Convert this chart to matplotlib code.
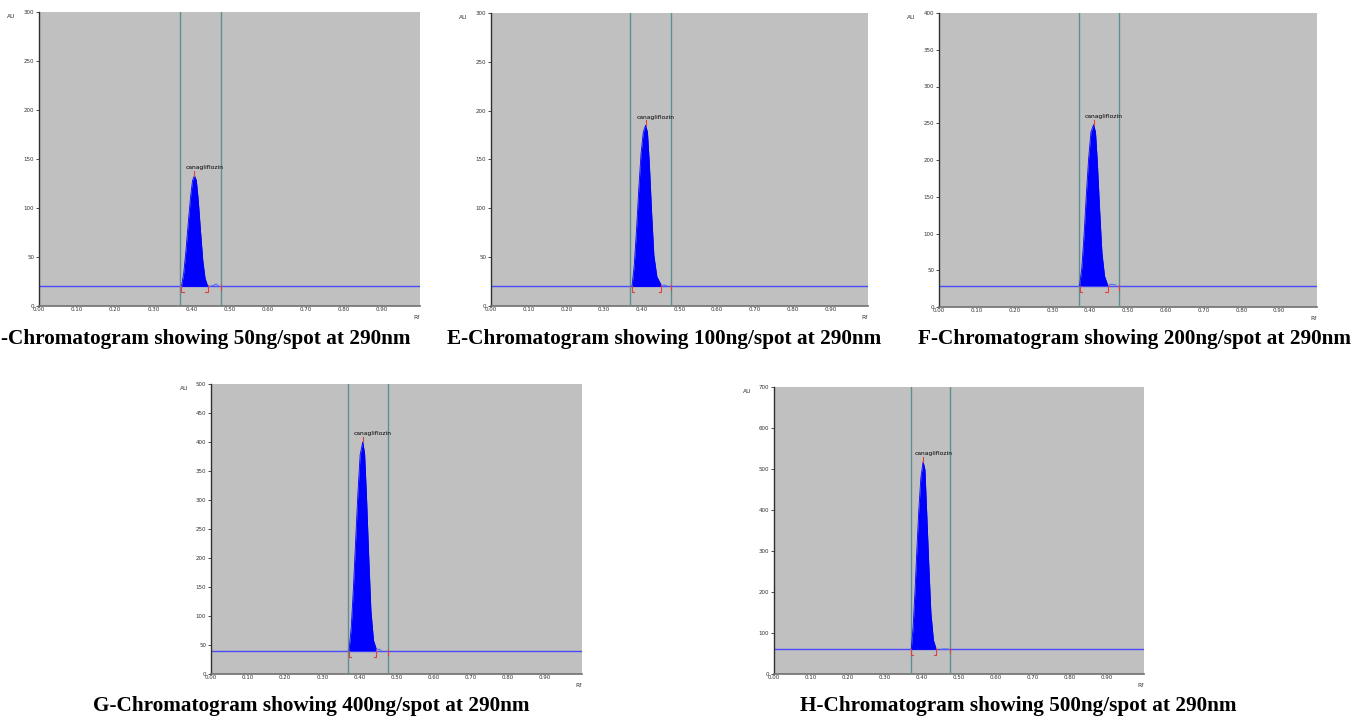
import matplotlib
matplotlib.use("Agg")
import matplotlib.pyplot as plt

W, H = 1354, 719

# === data ===
ymax = [300, 300, 400, 500, 700]
yticks_step = [50, 50, 50, 50, 100]
baseline = [20, 20, 29, 40, 60]
window = [0.370, 0.477]          # the two vertical teal lines

peak_rf = [
    [0.374, 0.380, 0.386, 0.392, 0.398, 0.403, 0.408, 0.413, 0.418, 0.424, 0.430, 0.436, 0.443],
    [0.374, 0.380, 0.386, 0.392, 0.398, 0.404, 0.410, 0.415, 0.420, 0.426, 0.432, 0.440, 0.452],
    [0.372, 0.378, 0.384, 0.390, 0.396, 0.402, 0.409, 0.414, 0.419, 0.425, 0.431, 0.438, 0.446],
    [0.372, 0.378, 0.384, 0.390, 0.396, 0.402, 0.409, 0.414, 0.419, 0.425, 0.431, 0.438, 0.446],
    [0.371, 0.376, 0.381, 0.386, 0.391, 0.397, 0.403, 0.408, 0.412, 0.418, 0.424, 0.431, 0.438],
]
peak_au = [
    [20, 34, 58, 86, 112, 128, 133, 128, 108, 76, 46, 28, 20],
    [20, 42, 78, 120, 156, 178, 185, 178, 146, 96, 52, 30, 21],
    [29, 54, 100, 155, 203, 238, 248, 238, 196, 132, 74, 42, 30],
    [40, 80, 150, 232, 312, 378, 400, 380, 308, 205, 110, 58, 42],
    [60, 115, 200, 300, 395, 480, 518, 498, 410, 275, 150, 82, 62],
]
# little bump / dots just after the peak, before the second teal line
bump_rf = [[0.448, 0.458, 0.465, 0.472], [0.452, 0.460, 0.466], [0.450, 0.456, 0.462, 0.468],
           [0.446, 0.452, 0.458], [0.452, 0.458, 0.466, 0.472]]
bump_au = [[20, 21, 22.5, 20], [21, 21.5, 20.5], [30, 31, 30.5, 30], [42, 43, 41], [60, 61, 61, 60]]

# first caption is cut at the left edge in the source picture
captions = ["-Chromatogram showing 50ng/spot at 290nm",
            "E-Chromatogram showing 100ng/spot at 290nm",
            "F-Chromatogram showing 200ng/spot at 290nm",
            "G-Chromatogram showing 400ng/spot at 290nm",
            "H-Chromatogram showing 500ng/spot at 290nm"]

# axes boxes in pixels: left, right, top, bottom
boxes = [(39, 420, 12, 306), (491, 868, 13, 306), (939, 1317, 13, 307),
         (211, 582, 384, 674), (774, 1144, 387, 674)]
# caption anchor (x px, y px, ha)
cap_pos = [(1, 339, "left"), (664, 339, "center"), (1135, 339, "center"),
           (311, 706, "center"), (1018, 706, "center")]

fig = plt.figure(figsize=(W / 100, H / 100), dpi=100)
fig.patch.set_facecolor("white")

for i in range(5):
    l, r, t, b = boxes[i]
    ax = fig.add_axes([l / W, 1 - b / H, (r - l) / W, (b - t) / H])
    ax.set_facecolor("#c0c0c0")
    ax.set_xlim(0, 1.0)
    ax.set_ylim(0, ymax[i])
    for s in ["top", "right"]:
        ax.spines[s].set_visible(False)
    ax.spines["left"].set_color("#303030")
    ax.spines["bottom"].set_color("#707070")
    ax.spines["left"].set_linewidth(1.0)
    ax.spines["bottom"].set_linewidth(1.2)

    ax.set_xticks([k / 10 for k in range(10)])
    ax.set_xticklabels(["%.2f" % (k / 10) for k in range(10)])
    ax.set_yticks(list(range(0, ymax[i] + 1, yticks_step[i])))
    ax.tick_params(axis="both", labelsize=4, length=2.5, width=0.6, pad=1, colors="#303030")
    ax.tick_params(axis="x", length=0)

    base = baseline[i]
    # baseline
    ax.axhline(base, color="#4a4aff", lw=1.0, zorder=2)
    # window lines
    for xv in window:
        ax.axvline(xv, color="#5f9090", lw=1.0, zorder=3)

    # peak
    rf = peak_rf[i]
    au = peak_au[i]
    ax.fill_between(rf, base, au, color="#0000ff", lw=0, zorder=4)
    ax.plot(rf, au, color="#0000ff", lw=0.6, zorder=4)
    ax.plot(bump_rf[i], bump_au[i], color="#4a6aff", lw=0.7, zorder=4)

    # red integration markers (sizes in pixels)
    py = ymax[i] / (b - t)
    dx = 0.006
    red = "#e04040"
    x0, x1 = rf[0], rf[-1]
    ax.plot([x0, x0, x0 + dx], [base, base - 6 * py, base - 6 * py], color=red, lw=0.8, zorder=5)
    ax.plot([x1, x1, x1 - dx], [base + 1 * py, base - 6 * py, base - 6 * py], color=red, lw=0.8, zorder=5)
    ax.plot([window[1], window[1]], [base + 1 * py, base - 4 * py], color=red, lw=0.8, zorder=5)
    k = au.index(max(au))
    ax.plot([rf[k], rf[k]], [au[k], au[k] + 5 * py], color=red, lw=0.8, zorder=5)
    ax.text(rf[k] - 0.024, au[k] + 5.5 * py, "canagliflozin", fontsize=4.3, color="black",
            ha="left", va="bottom", zorder=6)

    # axis labels "AU" and "Rf"
    ax.text(-0.062, 0.983, "AU", transform=ax.transAxes, fontsize=4.3, ha="right", va="center", color="#303030")
    ax.text(0.99, -0.04, "Rf", transform=ax.transAxes, fontsize=4.3, ha="center", va="center", color="#303030")

    cx, cy, ha = cap_pos[i]
    fig.text(cx / W, 1 - cy / H, captions[i], fontsize=15.3, fontweight="bold",
             family="Liberation Serif", ha=ha, va="center")

fig.savefig("out.png", dpi=100)
